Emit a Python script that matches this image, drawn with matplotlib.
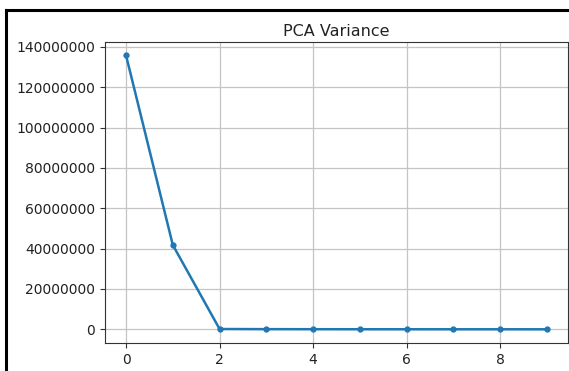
import matplotlib
matplotlib.use("Agg")
import matplotlib.pyplot as plt
from matplotlib.lines import Line2D

components = list(range(10))
variance = [135800000, 41800000, 150000, 80000, 50000, 30000, 20000, 15000, 10000, 5000]

fig = plt.figure(figsize=(5.69, 3.71), dpi=100)
ax = fig.add_axes([105/569, 1-343/371, 463/569, (343-41.7)/371])
ax.plot(components, variance, marker='.', color='#1f77b4', linewidth=1.8, markersize=7)
ax.set_title('PCA Variance', fontsize=11.5, pad=4, color='#222222')
ax.grid(True, color='#c4c4c4', linewidth=0.9)
ax.ticklabel_format(style='plain', axis='y', useOffset=False)
ax.tick_params(labelsize=10, colors='#333333', labelcolor='#222222')
for s in ax.spines.values():
    s.set_color('#333333')

# screenshot frame
fig.add_artist(Line2D([6/569, 6/569], [0, 1-10/371], color='black', linewidth=2.2, transform=fig.transFigure))
fig.add_artist(Line2D([6/569, 1], [1-10/371, 1-10/371], color='black', linewidth=2.2, transform=fig.transFigure))

fig.savefig('out.png', dpi=100)
